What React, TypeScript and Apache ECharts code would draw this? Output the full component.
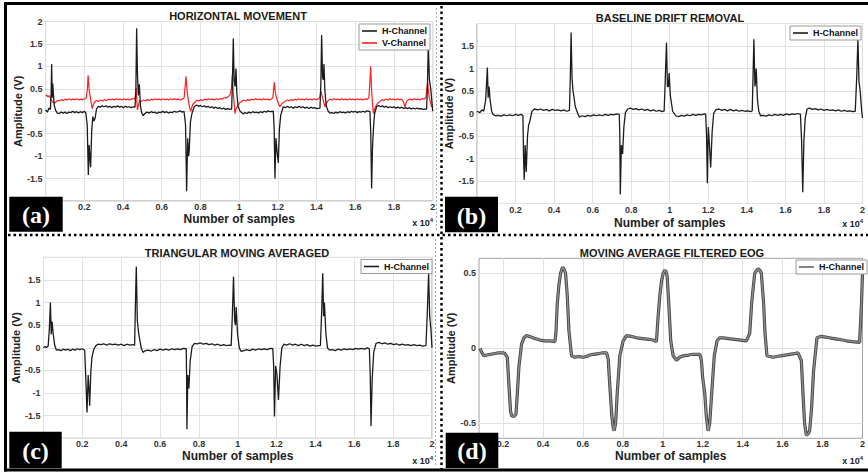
import React, { useEffect, useRef } from 'react';
import * as echarts from 'echarts';

// ---------------- DATA ----------------
const panelTitles = ['HORIZONTAL MOVEMENT', 'BASELINE DRIFT REMOVAL', 'TRIANGULAR MOVING AVERAGED', 'MOVING AVERAGE FILTERED EOG'];
const panelLabels = ['(a)', '(b)', '(c)', '(d)'];
const channelNames = ['H-Channel', 'V-Channel'];
const xAxisName = 'Number of samples';
const yAxisName = 'Amplitude (V)';
const xGridValuesD = [2000, 4000, 6000, 8000, 10000, 12000, 14000, 16000, 18000];
const yGridValuesD = [-0.5, 0, 0.5];

const hMoveH: [number, number][] = [
  [0, 0.03], [90, -0.02], [170, 0.07], [250, 0.04], [285, 0.4], [313, 1.05], [340, 0.3], [370, 0.62], [400, 0.4], [450, 0.12], [520, 0.02], [600, -0.04], [700, -0.05], [800, -0.02], [900, -0.04], [1000, -0.02], [1100, -0.05], [1200, -0.02], [1300, -0.03], [1400, 0.0], [1500, -0.03], [1600, -0.01], [1700, -0.04], [1800, -0.01], [1900, -0.03], [2000, 0.0], [2080, -0.04], [2150, -0.3], [2208, -1.42], [2250, -0.75], [2290, -1.05], [2328, -1.25], [2380, -0.45], [2440, -0.12], [2500, -0.22], [2560, -0.15], [2630, 0.05], [2720, 0.11], [2820, 0.09], [2920, 0.12], [3020, 0.1], [3120, 0.12], [3220, 0.09], [3320, 0.11], [3420, 0.08], [3520, 0.11], [3620, 0.09], [3720, 0.12], [3820, 0.09], [3920, 0.11], [4020, 0.08], [4120, 0.11], [4220, 0.09], [4320, 0.1], [4420, 0.08], [4520, 0.1], [4620, 0.09], [4665, 0.5], [4704, 1.85], [4745, 0.85], [4790, 0.35], [4842, 0.6], [4900, 0.12], [4962, -0.03], [5048, -0.1], [5150, -0.04], [5250, -0.02], [5350, -0.04], [5450, -0.01], [5550, -0.03], [5650, -0.02], [5750, -0.05], [5850, -0.02], [5950, -0.03], [6050, 0.0], [6150, -0.03], [6250, -0.01], [6350, -0.04], [6450, -0.02], [6550, -0.03], [6650, 0.0], [6750, -0.02], [6850, -0.01], [6950, 0.01], [7050, -0.02], [7150, 0.0], [7230, -0.3], [7287, -1.78], [7340, -0.6], [7390, -1.0], [7425, -0.85], [7480, -0.25], [7560, -0.05], [7680, 0.1], [7804, 0.14], [7900, 0.11], [8000, 0.13], [8100, 0.1], [8200, 0.12], [8300, 0.09], [8400, 0.11], [8500, 0.08], [8600, 0.1], [8700, 0.07], [8800, 0.09], [8900, 0.06], [9000, 0.08], [9100, 0.05], [9200, 0.07], [9300, 0.04], [9400, 0.06], [9500, 0.04], [9612, 0.05], [9650, 0.6], [9698, 1.62], [9740, 0.7], [9790, 0.55], [9836, 0.95], [9880, 0.4], [9950, 0.1], [10050, 0.0], [10215, -0.06], [10300, -0.03], [10400, -0.05], [10500, -0.02], [10600, -0.04], [10700, -0.01], [10800, -0.03], [10900, -0.02], [11000, -0.04], [11100, -0.01], [11200, -0.03], [11300, 0.0], [11400, -0.02], [11500, 0.01], [11600, -0.01], [11765, 0.0], [11810, -0.4], [11851, -1.5], [11900, -0.6], [11960, -0.9], [12023, -1.15], [12080, -0.4], [12150, -0.08], [12281, 0.1], [12400, 0.08], [12500, 0.11], [12600, 0.08], [12700, 0.1], [12800, 0.07], [12900, 0.1], [13000, 0.08], [13100, 0.11], [13200, 0.08], [13300, 0.1], [13400, 0.07], [13500, 0.09], [13600, 0.06], [13700, 0.09], [13800, 0.07], [13900, 0.08], [14000, 0.06], [14175, 0.07], [14220, 0.6], [14262, 1.7], [14310, 0.75], [14350, 0.7], [14382, 1.05], [14430, 0.45], [14500, 0.12], [14600, 0.0], [14692, -0.04], [14800, -0.03], [14900, -0.05], [15000, -0.02], [15100, -0.04], [15200, -0.01], [15300, -0.03], [15400, -0.02], [15500, -0.04], [15600, -0.01], [15700, -0.03], [15800, 0.0], [15900, -0.02], [16000, 0.0], [16100, -0.03], [16200, -0.01], [16300, -0.02], [16400, 0.0], [16500, -0.02], [16600, 0.01], [16758, -0.01], [16800, -0.5], [16844, -1.72], [16890, -0.8], [16950, -0.3], [17000, -0.05], [17103, 0.1], [17200, 0.13], [17300, 0.1], [17400, 0.12], [17500, 0.09], [17600, 0.11], [17700, 0.08], [17800, 0.1], [17900, 0.08], [18000, 0.1], [18100, 0.07], [18200, 0.09], [18300, 0.07], [18400, 0.09], [18500, 0.06], [18600, 0.08], [18700, 0.06], [18800, 0.08], [18900, 0.05], [19000, 0.07], [19100, 0.05], [19200, 0.07], [19300, 0.05], [19400, 0.06], [19500, 0.04], [19686, 0.05], [19730, 0.6], [19772, 1.5], [19830, 0.7], [19900, 0.5], [19960, 0.2], [20000, 0.0],
];

const hMoveV: [number, number][] = [
  [0, 0.34], [60, 0.36], [120, 0.32], [180, 0.35], [240, 0.3], [300, 0.24], [380, 0.2], [460, 0.18], [540, 0.21], [620, 0.24], [720, 0.23], [820, 0.26], [920, 0.24], [1020, 0.27], [1120, 0.25], [1220, 0.28], [1320, 0.25], [1420, 0.27], [1520, 0.26], [1620, 0.28], [1720, 0.25], [1820, 0.27], [1920, 0.26], [2020, 0.28], [2100, 0.3], [2160, 0.5], [2195, 0.8], [2225, 0.62], [2255, 0.45], [2300, 0.35], [2350, 0.2], [2410, 0.06], [2470, 0.15], [2550, 0.22], [2650, 0.24], [2750, 0.22], [2850, 0.25], [2950, 0.23], [3050, 0.26], [3150, 0.24], [3250, 0.27], [3350, 0.25], [3450, 0.27], [3550, 0.25], [3650, 0.28], [3750, 0.26], [3850, 0.27], [3950, 0.25], [4050, 0.28], [4150, 0.26], [4250, 0.27], [4350, 0.25], [4450, 0.28], [4550, 0.27], [4630, 0.3], [4680, 0.52], [4710, 0.25], [4745, 0.03], [4790, 0.12], [4860, 0.24], [4960, 0.22], [5060, 0.25], [5160, 0.23], [5260, 0.26], [5360, 0.24], [5460, 0.27], [5560, 0.25], [5660, 0.28], [5760, 0.26], [5860, 0.27], [5960, 0.25], [6060, 0.28], [6160, 0.26], [6260, 0.27], [6360, 0.25], [6460, 0.28], [6560, 0.26], [6660, 0.28], [6760, 0.26], [6860, 0.27], [6960, 0.25], [7060, 0.27], [7160, 0.3], [7253, 0.78], [7300, 0.5], [7339, 0.35], [7420, 0.12], [7494, 0.0], [7600, 0.15], [7718, 0.2], [7820, 0.25], [7920, 0.23], [8020, 0.26], [8120, 0.24], [8220, 0.27], [8320, 0.25], [8420, 0.28], [8520, 0.26], [8620, 0.27], [8720, 0.25], [8820, 0.28], [8920, 0.26], [9020, 0.28], [9120, 0.27], [9220, 0.3], [9354, 0.3], [9526, 0.36], [9600, 0.5], [9647, 0.82], [9700, 0.4], [9784, -0.05], [9840, 0.05], [9905, 0.1], [10010, 0.18], [10129, 0.22], [10250, 0.25], [10350, 0.23], [10450, 0.26], [10550, 0.24], [10650, 0.27], [10750, 0.25], [10850, 0.28], [10950, 0.26], [11050, 0.27], [11150, 0.25], [11250, 0.28], [11350, 0.26], [11450, 0.27], [11550, 0.25], [11650, 0.27], [11740, 0.3], [11816, 0.65], [11860, 0.45], [11902, 0.35], [12000, 0.2], [12109, 0.1], [12230, 0.18], [12367, 0.22], [12470, 0.25], [12570, 0.23], [12670, 0.26], [12770, 0.24], [12870, 0.27], [12970, 0.25], [13070, 0.28], [13170, 0.26], [13270, 0.27], [13370, 0.25], [13470, 0.28], [13570, 0.26], [13670, 0.27], [13770, 0.25], [13870, 0.28], [13970, 0.26], [14070, 0.27], [14160, 0.3], [14227, 0.45], [14313, 0.3], [14434, 0.1], [14560, 0.22], [14692, 0.27], [14800, 0.25], [14900, 0.28], [15000, 0.26], [15100, 0.27], [15200, 0.25], [15300, 0.28], [15400, 0.26], [15500, 0.27], [15600, 0.25], [15700, 0.28], [15800, 0.26], [15900, 0.27], [16000, 0.25], [16100, 0.28], [16200, 0.26], [16300, 0.27], [16400, 0.25], [16500, 0.28], [16600, 0.26], [16700, 0.3], [16750, 0.6], [16793, 1.0], [16850, 0.4], [16930, -0.05], [16990, 0.05], [17050, 0.1], [17160, 0.18], [17275, 0.22], [17380, 0.26], [17480, 0.24], [17580, 0.27], [17680, 0.25], [17780, 0.28], [17880, 0.26], [17980, 0.27], [18080, 0.25], [18180, 0.28], [18280, 0.26], [18380, 0.27], [18480, 0.22], [18565, 0.1], [18650, 0.22], [18750, 0.26], [18850, 0.27], [18950, 0.25], [19050, 0.28], [19150, 0.26], [19250, 0.27], [19350, 0.25], [19450, 0.28], [19550, 0.27], [19650, 0.3], [19738, 0.65], [19780, 0.45], [19824, 0.3], [19944, 0.1], [20000, 0.15],
];

const driftH: [number, number][] = [
  [0, 0.05], [150, 0.02], [250, 0.08], [350, 0.05], [450, 0.3], [538, 1.02], [580, 0.35], [624, 0.6], [680, 0.3], [760, 0.05], [831, -0.02], [950, -0.05], [1100, -0.04], [1250, -0.06], [1400, -0.03], [1550, -0.05], [1700, -0.03], [1850, -0.05], [2000, -0.02], [2150, -0.04], [2300, -0.02], [2383, -0.05], [2417, -1.0], [2450, -1.47], [2500, -0.7], [2555, -1.3], [2620, -0.5], [2680, -0.25], [2727, -0.2], [2850, 0.05], [2986, 0.1], [3150, 0.08], [3300, 0.1], [3450, 0.07], [3600, 0.09], [3750, 0.06], [3900, 0.09], [4050, 0.07], [4200, 0.08], [4350, 0.06], [4500, 0.08], [4650, 0.05], [4796, 0.07], [4840, 0.8], [4882, 1.8], [4930, 0.8], [4980, 0.5], [5020, 0.4], [5100, 0.15], [5227, 0.0], [5314, -0.08], [5450, -0.05], [5600, -0.07], [5750, -0.04], [5900, -0.06], [6050, -0.03], [6200, -0.05], [6350, -0.03], [6500, -0.05], [6650, -0.02], [6800, -0.04], [6950, -0.02], [7100, -0.03], [7250, -0.01], [7382, -0.02], [7410, -0.5], [7434, -1.8], [7490, -0.7], [7554, -0.9], [7620, -0.3], [7700, 0.02], [7813, 0.1], [7950, 0.12], [8100, 0.09], [8250, 0.11], [8400, 0.08], [8550, 0.1], [8700, 0.07], [8850, 0.09], [9000, 0.06], [9150, 0.08], [9300, 0.05], [9450, 0.07], [9600, 0.04], [9710, 0.06], [9770, 0.8], [9831, 1.58], [9880, 0.6], [9930, 0.6], [9969, 0.9], [10030, 0.4], [10150, 0.05], [10313, -0.05], [10450, -0.07], [10600, -0.04], [10750, -0.06], [10900, -0.03], [11050, -0.05], [11200, -0.02], [11350, -0.04], [11500, -0.02], [11650, -0.03], [11800, -0.01], [11865, -0.02], [11910, -0.5], [11951, -1.55], [12000, -0.3], [12060, -0.7], [12124, -1.2], [12200, -0.4], [12280, 0.0], [12382, 0.08], [12550, 0.1], [12700, 0.07], [12850, 0.09], [13000, 0.06], [13150, 0.09], [13300, 0.06], [13450, 0.08], [13600, 0.05], [13750, 0.07], [13900, 0.05], [14050, 0.06], [14200, 0.04], [14279, 0.06], [14320, 0.8], [14365, 1.65], [14420, 0.6], [14450, 0.7], [14486, 1.0], [14550, 0.3], [14620, 0.05], [14710, -0.05], [14850, -0.04], [15000, -0.06], [15150, -0.03], [15300, -0.05], [15450, -0.02], [15600, -0.04], [15750, -0.02], [15900, -0.04], [16050, -0.01], [16200, -0.03], [16350, -0.01], [16500, -0.02], [16650, 0.0], [16779, -0.02], [16840, -0.6], [16900, -1.75], [16960, -0.6], [17030, -0.1], [17124, 0.1], [17250, 0.12], [17400, 0.09], [17550, 0.11], [17700, 0.08], [17850, 0.1], [18000, 0.07], [18150, 0.09], [18300, 0.07], [18450, 0.08], [18600, 0.06], [18750, 0.08], [18900, 0.05], [19050, 0.07], [19200, 0.05], [19350, 0.06], [19500, 0.04], [19624, 0.05], [19700, 0.8], [19762, 1.65], [19820, 0.7], [19880, 0.5], [19950, 0.1], [20000, -0.1],
];

const triH: [number, number][] = [
  [0, 0.0], [80, 0.03], [160, 0.01], [240, 0.04], [300, 0.4], [355, 1.0], [400, 0.3], [440, 0.58], [500, 0.3], [580, 0.05], [663, -0.05], [780, -0.04], [900, -0.06], [1020, -0.03], [1140, -0.05], [1260, -0.03], [1380, -0.06], [1500, -0.03], [1620, -0.05], [1740, -0.02], [1860, -0.04], [1980, -0.02], [2120, -0.05], [2180, -0.7], [2240, -1.43], [2300, -0.6], [2340, -0.9], [2377, -1.28], [2440, -0.5], [2497, -0.2], [2600, -0.02], [2700, 0.05], [2805, 0.08], [2950, 0.07], [3100, 0.09], [3250, 0.06], [3400, 0.09], [3550, 0.07], [3700, 0.08], [3850, 0.06], [4000, 0.08], [4150, 0.05], [4300, 0.08], [4450, 0.06], [4600, 0.07], [4691, 0.06], [4730, 0.9], [4777, 1.8], [4830, 0.6], [4890, 0.35], [4948, 0.2], [5030, 0.0], [5120, -0.1], [5250, -0.06], [5400, -0.05], [5550, -0.07], [5700, -0.04], [5850, -0.06], [6000, -0.03], [6150, -0.05], [6300, -0.03], [6450, -0.05], [6600, -0.02], [6750, -0.04], [6900, -0.02], [7050, -0.04], [7200, -0.01], [7348, -0.02], [7365, -0.6], [7383, -1.8], [7430, -0.6], [7486, -0.9], [7550, -0.3], [7650, 0.03], [7777, 0.1], [7920, 0.09], [8070, 0.11], [8220, 0.08], [8370, 0.1], [8520, 0.07], [8670, 0.09], [8820, 0.06], [8970, 0.08], [9120, 0.05], [9270, 0.07], [9420, 0.05], [9570, 0.06], [9662, 0.05], [9720, 0.7], [9782, 1.57], [9840, 0.6], [9880, 0.5], [9919, 0.9], [9990, 0.3], [10080, 0.0], [10176, -0.08], [10320, -0.06], [10470, -0.04], [10620, -0.06], [10770, -0.03], [10920, -0.05], [11070, -0.02], [11220, -0.04], [11370, -0.02], [11520, -0.04], [11670, -0.01], [11804, -0.02], [11850, -0.4], [11890, -1.52], [11950, -0.4], [12020, -0.6], [12096, -1.15], [12180, -0.4], [12270, 0.0], [12370, 0.08], [12520, 0.06], [12670, 0.09], [12820, 0.06], [12970, 0.08], [13120, 0.05], [13270, 0.08], [13420, 0.05], [13570, 0.07], [13720, 0.04], [13870, 0.06], [14020, 0.04], [14170, 0.05], [14255, 0.05], [14320, 0.8], [14375, 1.65], [14420, 0.7], [14440, 0.8], [14461, 1.0], [14540, 0.3], [14620, 0.0], [14718, -0.05], [14870, -0.04], [15020, -0.06], [15170, -0.03], [15320, -0.05], [15470, -0.02], [15620, -0.04], [15770, -0.02], [15920, -0.04], [16070, -0.01], [16220, -0.03], [16370, -0.01], [16520, -0.03], [16675, 0.0], [16775, -0.02], [16820, -0.6], [16861, -1.73], [16920, -0.7], [17000, -0.1], [17118, 0.1], [17270, 0.12], [17420, 0.09], [17570, 0.11], [17720, 0.08], [17870, 0.1], [18020, 0.07], [18170, 0.09], [18320, 0.06], [18470, 0.08], [18620, 0.06], [18770, 0.07], [18920, 0.05], [19070, 0.07], [19220, 0.05], [19370, 0.06], [19520, 0.04], [19689, 0.05], [19760, 0.8], [19826, 1.65], [19880, 0.7], [19946, 0.4], [20000, 0.0],
];

const maH: [number, number][] = [
  [850, 0.0], [950, -0.03], [1050, -0.05], [1200, -0.045], [1400, -0.04], [1600, -0.035], [1800, -0.03], [2000, -0.03], [2100, -0.035], [2217, -0.06], [2300, -0.25], [2380, -0.42], [2434, -0.45], [2550, -0.455], [2650, -0.44], [2720, -0.3], [2800, -0.12], [2934, 0.03], [3050, 0.07], [3184, 0.085], [3400, 0.075], [3600, 0.065], [3851, 0.055], [4100, 0.05], [4350, 0.05], [4601, 0.045], [4651, 0.1], [4720, 0.3], [4800, 0.42], [4884, 0.5], [4984, 0.54], [5050, 0.53], [5134, 0.5], [5220, 0.35], [5300, 0.12], [5434, -0.05], [5600, -0.06], [5800, -0.055], [6000, -0.06], [6184, -0.055], [6350, -0.045], [6518, -0.04], [6800, -0.035], [7000, -0.03], [7185, -0.03], [7268, -0.07], [7350, -0.25], [7450, -0.45], [7520, -0.53], [7568, -0.55], [7640, -0.5], [7720, -0.3], [7850, -0.05], [8018, 0.05], [8185, 0.085], [8400, 0.08], [8685, 0.07], [9000, 0.065], [9300, 0.06], [9500, 0.055], [9685, 0.045], [9760, 0.2], [9852, 0.35], [9940, 0.45], [10019, 0.5], [10102, 0.52], [10170, 0.51], [10219, 0.48], [10300, 0.3], [10400, 0.05], [10519, -0.05], [10685, -0.08], [10850, -0.06], [11019, -0.05], [11300, -0.045], [11500, -0.04], [11686, -0.04], [11852, -0.04], [11935, -0.08], [12000, -0.2], [12102, -0.3], [12180, -0.45], [12269, -0.55], [12350, -0.5], [12450, -0.3], [12580, -0.05], [12719, 0.05], [12850, 0.07], [13019, 0.07], [13300, 0.065], [13600, 0.06], [13900, 0.055], [14186, 0.05], [14353, 0.1], [14450, 0.3], [14603, 0.5], [14769, 0.53], [14860, 0.52], [14936, 0.5], [15050, 0.3], [15120, 0.1], [15219, -0.05], [15520, -0.06], [15900, -0.05], [16353, -0.04], [16600, -0.035], [16770, -0.03], [16937, -0.08], [17020, -0.3], [17100, -0.5], [17187, -0.58], [17280, -0.57], [17354, -0.55], [17450, -0.4], [17550, -0.15], [17720, 0.07], [17937, 0.08], [18150, 0.075], [18354, 0.07], [18800, 0.06], [19187, 0.05], [19500, 0.045], [19854, 0.04], [19950, 0.3], [20000, 0.5],
];

// ---------------- STYLE / LAYOUT ----------------
const SANS = "'Liberation Sans', Arial, sans-serif";
const SERIF = "'Liberation Serif', 'Times New Roman', serif";
const GRID_COLOR = '#e1e1e1';
const BORDER_COLOR = '#a0a0a0';

const grids = [
  { left: 45.6, right: 435.3, top: 21.5, bottom: 272 },
  { left: 477, right: 5.5, top: 23.5, bottom: 269.5 },
  { left: 43.5, right: 436, top: 257.4, bottom: 34.7 },
  { left: 479, right: 5, top: 258.3, bottom: 34.7 },
];

const fmtX = (v: number) => (v === 0 ? '' : String(+(v / 10000).toFixed(2)));

function buildOption(): any {
  const axisLabelBase = { fontSize: 9, fontWeight: 'bold', color: '#333', fontFamily: SANS };
  const xNameStyle = { fontSize: 12, fontWeight: 'bold', color: '#222', fontFamily: SANS };
  const yNameStyle = { fontSize: 11, fontWeight: 'bold', color: '#222', fontFamily: SANS };
  const yNameGaps = [14, 10, 15, 16];
  const xNameGaps = [12, 13, 11.5, 11.5];

  const xAxis: any[] = [0, 1, 2].map((i) => ({
    type: 'value', gridIndex: i, min: 0, max: 20000, interval: 2000,
    axisLine: { show: false }, axisTick: { show: false },
    splitLine: { show: true, lineStyle: { color: GRID_COLOR, width: 1 } },
    axisLabel: { ...axisLabelBase, margin: 1.5, formatter: fmtX, showMinLabel: false },
    name: xAxisName, nameLocation: 'middle', nameGap: xNameGaps[i], nameTextStyle: xNameStyle,
  }));
  xAxis.push({
    type: 'value', gridIndex: 3, min: 800, max: 20000, interval: 400,
    axisLine: { show: false }, axisTick: { show: false }, splitLine: { show: false },
    axisLabel: { ...axisLabelBase, margin: 1.5, formatter: (v: number) => (v % 2000 === 0 ? fmtX(v) : '') },
    name: xAxisName, nameLocation: 'middle', nameGap: xNameGaps[3], nameTextStyle: xNameStyle,
  });

  const yAxis: any[] = [0, 1, 2].map((i) => ({
    type: 'value', gridIndex: i, min: -2, max: 2, interval: 0.5,
    axisLine: { show: false }, axisTick: { show: false },
    splitLine: { show: true, lineStyle: { color: GRID_COLOR, width: 1 } },
    axisLabel: { ...axisLabelBase, margin: 3, showMinLabel: false, showMaxLabel: i === 0 },
    name: yAxisName, nameLocation: 'middle', nameGap: yNameGaps[i], nameTextStyle: yNameStyle,
  }));
  yAxis.push({
    type: 'value', gridIndex: 3, min: -0.6, max: 0.6, interval: 0.1,
    axisLine: { show: false }, axisTick: { show: false }, splitLine: { show: false },
    axisLabel: {
      ...axisLabelBase, margin: 3,
      formatter: (v: number) => {
        const r = Math.round(v * 10) / 10;
        return yGridValuesD.some((g) => Math.abs(g - r) < 1e-9) ? String(r === 0 ? 0 : r) : '';
      },
    },
    name: yAxisName, nameLocation: 'middle', nameGap: yNameGaps[3], nameTextStyle: yNameStyle,
  });

  const lineBase = { type: 'line', showSymbol: false, symbol: 'none', silent: true, animation: false };
  const series: any[] = [
    { ...lineBase, name: channelNames[1], xAxisIndex: 0, yAxisIndex: 0, data: hMoveV, color: '#ff2020', lineStyle: { color: '#ff2020', width: 1.2 } },
    { ...lineBase, name: channelNames[0], xAxisIndex: 0, yAxisIndex: 0, data: hMoveH, color: '#1c1c1c', lineStyle: { color: '#1c1c1c', width: 1.3 } },
    { ...lineBase, name: channelNames[0], xAxisIndex: 1, yAxisIndex: 1, data: driftH, color: '#1c1c1c', lineStyle: { color: '#1c1c1c', width: 1.3 } },
    { ...lineBase, name: channelNames[0], xAxisIndex: 2, yAxisIndex: 2, data: triH, color: '#1c1c1c', lineStyle: { color: '#1c1c1c', width: 1.3 } },
    {
      ...lineBase, xAxisIndex: 3, yAxisIndex: 3, data: maH, color: '#444', lineStyle: { color: '#444', width: 3.2 }, z: 2,
      markLine: {
        silent: true, symbol: ['none', 'none'], label: { show: false }, animation: false, z: 1,
        lineStyle: { color: GRID_COLOR, width: 1, type: 'solid' },
        data: [...xGridValuesD.map((v) => ({ xAxis: v })), ...yGridValuesD.map((v) => ({ yAxis: v }))],
      },
    },
    { ...lineBase, name: channelNames[0], xAxisIndex: 3, yAxisIndex: 3, data: maH, color: '#8c8c8c', lineStyle: { color: '#8c8c8c', width: 1.5 }, z: 3 },
  ];

  const legendBase = {
    orient: 'vertical', padding: [2, 3, 2, 3], itemGap: 2, itemWidth: 15, itemHeight: 1.6, icon: 'rect',
    borderColor: '#999', borderWidth: 1, backgroundColor: '#fff', selectedMode: false,
    textStyle: { fontSize: 9, fontWeight: 'bold', color: '#111', fontFamily: SANS, lineHeight: 10 },
  };
  const legend = [
    { ...legendBase, right: 438, top: 24, data: [{ name: channelNames[0], itemStyle: { color: '#1c1c1c' } }, { name: channelNames[1], itemStyle: { color: '#ff2020' } }] },
    { ...legendBase, right: 7, top: 26, data: [{ name: channelNames[0], itemStyle: { color: '#1c1c1c' } }] },
    { ...legendBase, right: 436, top: 259.5, data: [{ name: channelNames[0], itemStyle: { color: '#1c1c1c' } }] },
    { ...legendBase, right: 1, top: 260, data: [{ name: channelNames[0], itemStyle: { color: '#666' } }] },
  ];

  const titlePos = [[238, 16], [670, 18.3], [237, 252.7], [672, 253.3]];
  const labelBoxes = [
    [9.3, 196.7, 53.4, 35], [445, 196.7, 53, 35.6], [9.3, 431.7, 52.4, 36.6], [445.7, 432.7, 52.6, 35.3],
  ];
  const expPos = [[433, 222.5], [863, 224], [433, 461], [863, 460.7]];

  const elements: any[] = [];
  elements.push({ type: 'line', z: 100, shape: { x1: 4, y1: 3.5, x2: 868, y2: 3.5 }, style: { stroke: '#000', lineWidth: 3 } });
  elements.push({ type: 'line', z: 100, shape: { x1: 5.5, y1: 2, x2: 5.5, y2: 471.5 }, style: { stroke: '#000', lineWidth: 3 } });
  elements.push({ type: 'line', z: 100, shape: { x1: 4, y1: 470, x2: 868, y2: 470 }, style: { stroke: '#000', lineWidth: 3 } });
  elements.push({ type: 'line', z: 100, shape: { x1: 8, y1: 235, x2: 868, y2: 235 }, style: { stroke: '#000', lineWidth: 2.5, lineDash: [2.5, 3] } });
  elements.push({ type: 'line', z: 100, shape: { x1: 441.5, y1: 6, x2: 441.5, y2: 469 }, style: { stroke: '#000', lineWidth: 2.5, lineDash: [2.5, 3] } });
  elements.push({ type: 'line', z: 99, shape: { x1: 436.5, y1: 8, x2: 436.5, y2: 231 }, style: { stroke: '#aaa', lineWidth: 1, lineDash: [2, 2] } });
  elements.push({ type: 'line', z: 99, shape: { x1: 435.5, y1: 239, x2: 435.5, y2: 466 }, style: { stroke: '#aaa', lineWidth: 1, lineDash: [2, 2] } });

  for (let i = 0; i < 4; i++) {
    const [bx, by, bw, bh] = labelBoxes[i];
    elements.push({ type: 'rect', z: 110, shape: { x: bx, y: by, width: bw, height: bh }, style: { fill: '#000' } });
    elements.push({
      type: 'text', z: 111, x: bx + bw / 2, y: by + bh / 2 + 1,
      style: { text: panelLabels[i], fill: '#fff', font: `bold 24px ${SERIF}`, align: 'center', verticalAlign: 'middle', textAlign: 'center', textVerticalAlign: 'middle' },
    });
    elements.push({
      type: 'text', z: 105, x: titlePos[i][0], y: titlePos[i][1],
      style: { text: panelTitles[i], fill: '#1a1a1a', font: `bold 11px ${SANS}`, align: 'center', verticalAlign: 'middle', textAlign: 'center', textVerticalAlign: 'middle' },
    });
    elements.push({
      type: 'text', z: 105, x: expPos[i][0], y: expPos[i][1],
      style: {
        text: '{a|x 10}{b|4}', align: 'right', verticalAlign: 'middle', textAlign: 'right', textVerticalAlign: 'middle',
        rich: {
          a: { fontSize: 9, fontWeight: 'bold', fontFamily: SANS, fill: '#222', color: '#222', lineHeight: 12 },
          b: { fontSize: 6, fontWeight: 'bold', fontFamily: SANS, fill: '#222', color: '#222', lineHeight: 12, verticalAlign: 'top' },
        },
      },
    });
  }

  return {
    animation: false,
    backgroundColor: '#fff',
    grid: grids.map((g) => ({ ...g, show: true, borderColor: BORDER_COLOR, borderWidth: 1, backgroundColor: '#fff', containLabel: false })),
    xAxis, yAxis, series, legend,
    graphic: { elements },
  };
}

export default function App() {
  const ref = useRef<HTMLDivElement>(null);
  useEffect(() => {
    const chart = echarts.init(ref.current as HTMLDivElement, null, { renderer: 'svg' });
    chart.setOption(buildOption());
    return () => chart.dispose();
  }, []);
  return <div ref={ref} style={{ position: 'absolute', left: 0, top: 0, width: 868, height: 473, background: '#fff' }} />;
}
